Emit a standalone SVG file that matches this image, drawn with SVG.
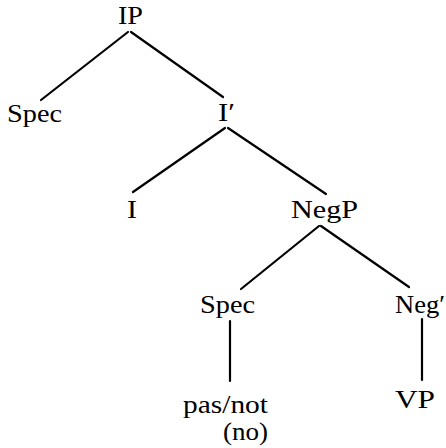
<svg xmlns="http://www.w3.org/2000/svg" width="446" height="448" viewBox="0 0 446 448">
<style>
text{font-family:'Liberation Serif','Times New Roman',serif;font-size:26px;fill:#000}
.e{stroke:#000;stroke-width:2.2;stroke-linecap:round;fill:none}
</style>
<rect width="446" height="448" fill="#fff"/>
<g id="edges">
<line class="e" x1="128" y1="32" x2="41" y2="100"/>
<line class="e" x1="131" y1="32" x2="223" y2="97"/>
<line class="e" x1="225" y1="128" x2="133" y2="192"/>
<line class="e" x1="228" y1="128" x2="326" y2="194"/>
<line class="e" x1="319" y1="226" x2="241" y2="289"/>
<line class="e" x1="321" y1="226" x2="409" y2="287"/>
<line class="e" x1="230" y1="321" x2="230" y2="381"/>
<line class="e" x1="422" y1="319" x2="422" y2="380"/>
</g>
<g id="IP"><text x="118" y="24" textLength="25" lengthAdjust="spacingAndGlyphs">IP</text></g>
<g id="Spec1"><text x="7" y="122" textLength="55" lengthAdjust="spacingAndGlyphs">Spec</text></g>
<g id="Ibar"><text x="218" y="121" textLength="17" lengthAdjust="spacingAndGlyphs">I′</text></g>
<g id="I"><text x="127" y="218" textLength="10" lengthAdjust="spacingAndGlyphs">I</text></g>
<g id="NegP"><text x="291" y="218" textLength="67" lengthAdjust="spacingAndGlyphs">NegP</text></g>
<g id="Spec2"><text x="200" y="313" textLength="55" lengthAdjust="spacingAndGlyphs">Spec</text></g>
<g id="Negbar"><text x="395" y="313" textLength="50" lengthAdjust="spacingAndGlyphs">Neg′</text></g>
<g id="pasnot"><text x="183" y="413" textLength="85" lengthAdjust="spacingAndGlyphs">pas/not</text><text x="223" y="440" textLength="45" lengthAdjust="spacingAndGlyphs">(no)</text></g>
<g id="VP"><text x="395" y="408" textLength="40" lengthAdjust="spacingAndGlyphs">VP</text></g>
</svg>
